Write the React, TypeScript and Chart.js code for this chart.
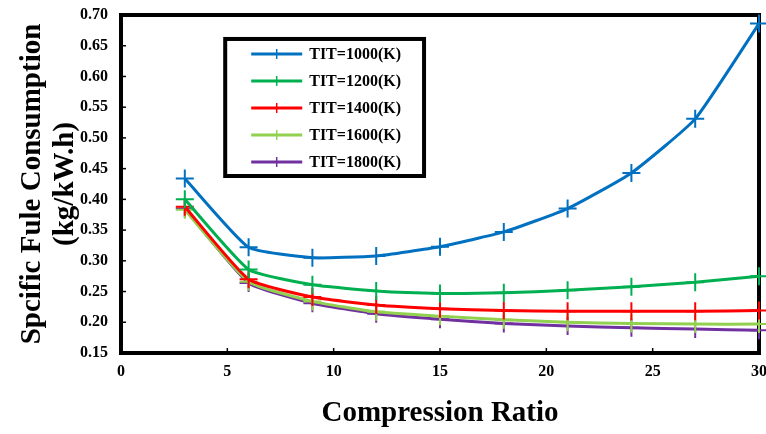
import React, { useEffect, useRef } from "react";
import { Chart, registerables } from "chart.js";

Chart.register(...registerables);

const compressionRatio = [3, 6, 9, 12, 15, 18, 21, 24, 27, 30];
const seriesLabels = ["TIT=1000(K)", "TIT=1200(K)", "TIT=1400(K)", "TIT=1600(K)", "TIT=1800(K)"];
const sfc1000 = [0.434, 0.322, 0.305, 0.308, 0.323, 0.347, 0.385, 0.443, 0.531, 0.686];
const sfc1200 = [0.400, 0.286, 0.261, 0.251, 0.247, 0.248, 0.252, 0.258, 0.265, 0.275];
const sfc1400 = [0.388, 0.270, 0.241, 0.228, 0.222, 0.219, 0.218, 0.218, 0.218, 0.219];
const sfc1600 = [0.383, 0.266, 0.234, 0.217, 0.210, 0.204, 0.200, 0.198, 0.197, 0.197];
const sfc1800 = [0.385, 0.264, 0.231, 0.214, 0.205, 0.198, 0.194, 0.191, 0.189, 0.187];
const seriesColors = ["#0070C0", "#00B050", "#FF0000", "#92D050", "#7030A0"];
const xTicks = [0, 5, 10, 15, 20, 25, 30];
const yTicks = [0.15, 0.2, 0.25, 0.3, 0.35, 0.4, 0.45, 0.5, 0.55, 0.6, 0.65, 0.7];

const FONT = "'Liberation Serif', 'Times New Roman', serif";

const framePlugin = {
  id: "frame",
  beforeDatasetsDraw(chart: any) {
    const { ctx, chartArea: a, scales } = chart;
    ctx.save();
    ctx.strokeStyle = "#000";
    ctx.lineWidth = 1.5;
    xTicks.forEach((v) => {
      const px = scales.x.getPixelForValue(v);
      ctx.beginPath();
      ctx.moveTo(px, a.bottom);
      ctx.lineTo(px, a.bottom - 5);
      ctx.stroke();
    });
    yTicks.forEach((v) => {
      const py = scales.y.getPixelForValue(v);
      ctx.beginPath();
      ctx.moveTo(a.left, py);
      ctx.lineTo(a.left + 5, py);
      ctx.stroke();
    });
    ctx.lineWidth = 4;
    ctx.strokeRect(a.left, a.top, a.right - a.left, a.bottom - a.top);
    ctx.restore();
  },
};

const legendPlugin = {
  id: "boxLegend",
  afterDatasetsDraw(chart: any) {
    const { ctx, scales } = chart;
    const x0 = scales.x.getPixelForValue(4.9);
    const x1 = scales.x.getPixelForValue(14.25);
    const y0 = scales.y.getPixelForValue(0.661);
    const y1 = scales.y.getPixelForValue(0.438);
    ctx.save();
    ctx.fillStyle = "#fff";
    ctx.fillRect(x0, y0, x1 - x0, y1 - y0);
    ctx.strokeStyle = "#000";
    ctx.lineWidth = 4;
    ctx.strokeRect(x0, y0, x1 - x0, y1 - y0);
    chart.data.datasets.forEach((ds: any, i: number) => {
      const cy = y0 + 15 + i * 27;
      const lx0 = x0 + 26;
      const lx1 = x0 + 77;
      ctx.strokeStyle = ds.borderColor;
      ctx.lineWidth = 3;
      ctx.beginPath();
      ctx.moveTo(lx0, cy);
      ctx.lineTo(lx1, cy);
      ctx.stroke();
      ctx.lineWidth = 1.5;
      const mx = (lx0 + lx1) / 2;
      ctx.beginPath();
      ctx.moveTo(mx, cy - 5);
      ctx.lineTo(mx, cy + 5);
      ctx.stroke();
      ctx.fillStyle = "#000";
      ctx.font = `bold 16px ${FONT}`;
      ctx.textBaseline = "middle";
      ctx.textAlign = "left";
      ctx.fillText(ds.label, x0 + 84, cy + 1);
    });
    ctx.restore();
  },
};

export default function App() {
  const ref = useRef<HTMLCanvasElement | null>(null);
  useEffect(() => {
    document.body.style.margin = "0";
    const all = [sfc1000, sfc1200, sfc1400, sfc1600, sfc1800];
    const chart = new Chart(ref.current as HTMLCanvasElement, {
      type: "line",
      data: {
        datasets: all.map((vals, i) => ({
          label: seriesLabels[i],
          data: compressionRatio.map((x, j) => ({ x, y: vals[j] })),
          borderColor: seriesColors[i],
          backgroundColor: seriesColors[i],
          borderWidth: 3,
          pointStyle: "cross",
          pointRadius: 9,
          pointBorderWidth: 2,
          pointBorderColor: seriesColors[i],
          tension: 0.15,
          clip: false as any,
        })),
      },
      plugins: [framePlugin, legendPlugin],
      options: {
        animation: false,
        responsive: false,
        layout: { autoPadding: false, padding: { top: 15, right: 7, left: 0, bottom: 0 } },
        plugins: { legend: { display: false }, tooltip: { enabled: false } },
        scales: {
          x: {
            type: "linear",
            min: 0,
            max: 30,
            afterFit: (s: any) => {
              s.height = 81;
              s.paddingLeft = 0;
              s.paddingRight = 0;
            },
            afterBuildTicks: (s: any) => {
              s.ticks = xTicks.map((v) => ({ value: v }));
            },
            grid: { display: false, drawTicks: false },
            border: { display: false },
            ticks: {
              color: "#000",
              font: { family: FONT, size: 16, weight: "bold" },
              padding: 9,
              maxRotation: 0,
            },
            title: {
              display: true,
              text: "Compression Ratio",
              color: "#000",
              font: { family: FONT, size: 29, weight: "bold", lineHeight: 1.1 },
              padding: { top: 0, bottom: 5 },
            },
          },
          y: {
            type: "linear",
            min: 0.15,
            max: 0.7,
            afterFit: (s: any) => {
              s.width = 121;
              s.paddingTop = 0;
              s.paddingBottom = 0;
            },
            afterBuildTicks: (s: any) => {
              s.ticks = yTicks.map((v) => ({ value: v }));
            },
            grid: { display: false, drawTicks: false },
            border: { display: false },
            ticks: {
              color: "#000",
              font: { family: FONT, size: 16, weight: "bold" },
              padding: 13,
              callback: (v: any) => Number(v).toFixed(2),
            },
            title: {
              display: true,
              text: ["Spcific Fule Consumption", "(kg/kW.h)"],
              color: "#000",
              font: { family: FONT, size: 29, weight: "bold", lineHeight: 1.14 },
              padding: { top: 16, bottom: 0 },
            },
          },
        },
      },
    });
    return () => chart.destroy();
  }, []);
  return (
    <div style={{ width: 766, height: 434 }}>
      <canvas ref={ref} width={766} height={434} style={{ width: 766, height: 434, display: "block" }} />
    </div>
  );
}
